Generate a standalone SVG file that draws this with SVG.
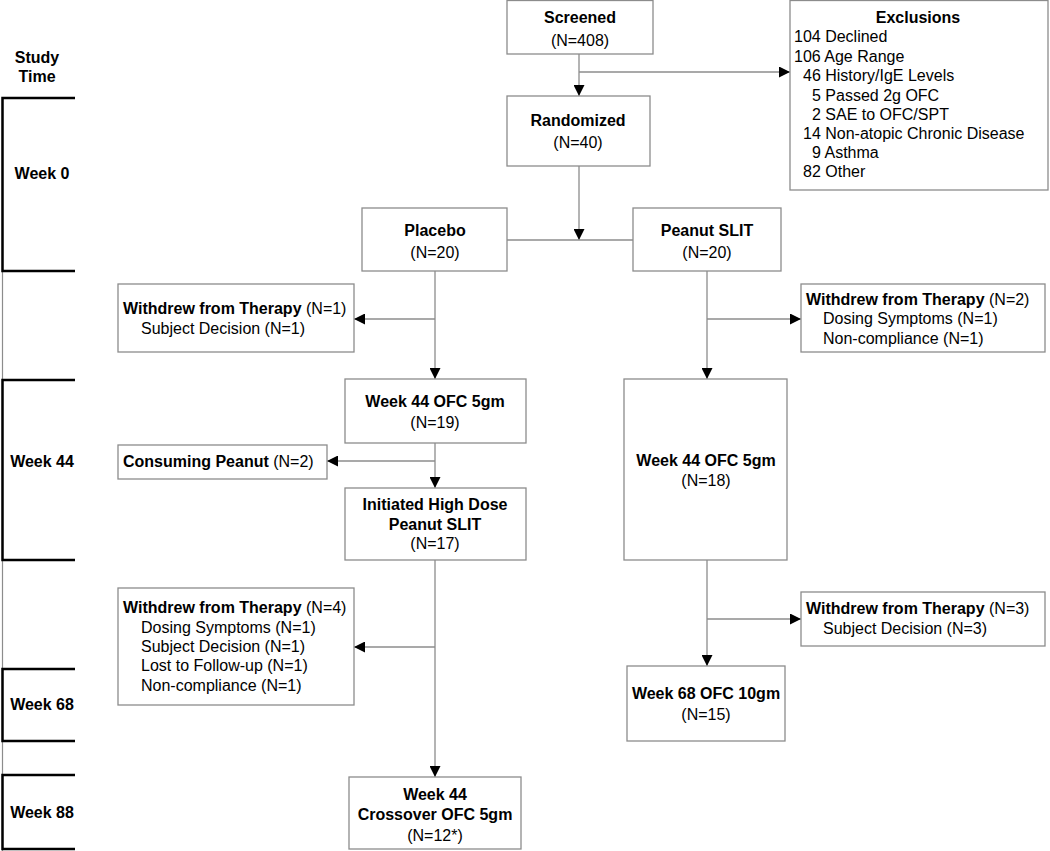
<svg xmlns="http://www.w3.org/2000/svg" width="1050" height="851" viewBox="0 0 1050 851">
<style>
text{font-family:"Liberation Sans",Arial,sans-serif;font-size:16px;fill:#000}
.b{font-weight:bold}
.c{text-anchor:middle}
.box{fill:#fff;stroke:#8c8c8c;stroke-width:1.3}
.ln{fill:none;stroke:#8c8c8c;stroke-width:1.3}
.br{fill:none;stroke:#000;stroke-width:2.5}
</style>
<defs>
<marker id="ah" viewBox="0 0 10 10" refX="10" refY="5" markerWidth="11" markerHeight="11" markerUnits="userSpaceOnUse" orient="auto">
<path d="M0,0 L10,5 L0,10 Z" fill="#000"/>
</marker>
</defs>
<rect width="1050" height="851" fill="#fff"/>

<g id="timeline">
<line x1="2.5" y1="98" x2="2.5" y2="851" stroke="#8c8c8c" stroke-width="1.2"/>
<text class="b c" x="37" y="63">Study</text>
<text class="b c" x="37" y="82">Time</text>
<path class="br" d="M75,98 H2.5 V271 H75"/>
<text class="b c" x="42" y="179">Week 0</text>
<path class="br" d="M75,380 H2.5 V560 H75"/>
<text class="b c" x="42" y="467">Week 44</text>
<path class="br" d="M75,669 H2.5 V741 H75"/>
<text class="b c" x="42" y="710">Week 68</text>
<path class="br" d="M75,775 H2.5 V849 H75"/>
<text class="b c" x="42" y="818">Week 88</text>
</g>

<g id="connectors">
<line class="ln" x1="579" y1="54" x2="579" y2="96" marker-end="url(#ah)"/>
<line class="ln" x1="579" y1="72" x2="790" y2="72" marker-end="url(#ah)"/>
<line class="ln" x1="579" y1="166" x2="579" y2="240" marker-end="url(#ah)"/>
<line class="ln" x1="507" y1="240" x2="633" y2="240"/>
<line class="ln" x1="435" y1="271" x2="435" y2="379" marker-end="url(#ah)"/>
<line class="ln" x1="435" y1="319" x2="354" y2="319" marker-end="url(#ah)"/>
<line class="ln" x1="435" y1="443" x2="435" y2="488" marker-end="url(#ah)"/>
<line class="ln" x1="435" y1="461" x2="327" y2="461" marker-end="url(#ah)"/>
<line class="ln" x1="435" y1="560" x2="435" y2="777" marker-end="url(#ah)"/>
<line class="ln" x1="435" y1="647" x2="354" y2="647" marker-end="url(#ah)"/>
<line class="ln" x1="707" y1="271" x2="707" y2="379" marker-end="url(#ah)"/>
<line class="ln" x1="707" y1="319" x2="801" y2="319" marker-end="url(#ah)"/>
<line class="ln" x1="707" y1="560" x2="707" y2="666" marker-end="url(#ah)"/>
<line class="ln" x1="707" y1="619" x2="801" y2="619" marker-end="url(#ah)"/>
</g>

<g id="screened">
<rect class="box" x="507" y="0.5" width="146" height="53.5"/>
<text class="b c" x="580" y="23">Screened</text>
<text class="c" x="580" y="46">(N=408)</text>
</g>

<g id="exclusions">
<rect class="box" x="790" y="0.5" width="258" height="189.5"/>
<text class="b c" x="918" y="23">Exclusions</text>
<text x="794" y="42">104 Declined</text>
<text x="794" y="62">106 Age Range</text>
<text x="803" y="81">46 History/IgE Levels</text>
<text x="812" y="101">5 Passed 2g OFC</text>
<text x="812" y="120">2 SAE to OFC/SPT</text>
<text x="803" y="139">14 Non-atopic Chronic Disease</text>
<text x="812" y="158">9 Asthma</text>
<text x="803" y="177">82 Other</text>
</g>

<g id="randomized">
<rect class="box" x="507" y="96" width="143" height="70"/>
<text class="b c" x="578" y="126">Randomized</text>
<text class="c" x="578" y="148">(N=40)</text>
</g>

<g id="placebo">
<rect class="box" x="362" y="208" width="145" height="63"/>
<text class="b c" x="435" y="236">Placebo</text>
<text class="c" x="435" y="258">(N=20)</text>
</g>

<g id="peanut">
<rect class="box" x="633" y="208" width="148" height="63"/>
<text class="b c" x="707" y="236">Peanut SLIT</text>
<text class="c" x="707" y="258">(N=20)</text>
</g>

<g id="withdrew1">
<rect class="box" x="118" y="284" width="236" height="68"/>
<text x="123" y="314"><tspan class="b">Withdrew from Therapy</tspan> (N=1)</text>
<text x="141" y="334">Subject Decision (N=1)</text>
</g>

<g id="withdrew2">
<rect class="box" x="801" y="284" width="244" height="68"/>
<text x="806" y="305"><tspan class="b">Withdrew from Therapy</tspan> (N=2)</text>
<text x="823" y="324">Dosing Symptoms (N=1)</text>
<text x="823" y="344">Non-compliance (N=1)</text>
</g>

<g id="week44placebo">
<rect class="box" x="345" y="379" width="181" height="64"/>
<text class="b c" x="435" y="407">Week 44 OFC 5gm</text>
<text class="c" x="435" y="428">(N=19)</text>
</g>

<g id="consuming">
<rect class="box" x="118" y="445" width="209" height="34"/>
<text x="123" y="467"><tspan class="b">Consuming Peanut</tspan> (N=2)</text>
</g>

<g id="highdose">
<rect class="box" x="345" y="488" width="181" height="72"/>
<text class="b c" x="435" y="510">Initiated High Dose</text>
<text class="b c" x="435" y="530">Peanut SLIT</text>
<text class="c" x="435" y="549">(N=17)</text>
</g>

<g id="week44peanut">
<rect class="box" x="624" y="379" width="163" height="181"/>
<text class="b c" x="706" y="466">Week 44 OFC 5gm</text>
<text class="c" x="706" y="486">(N=18)</text>
</g>

<g id="withdrew3">
<rect class="box" x="801" y="592" width="244" height="54"/>
<text x="806" y="614"><tspan class="b">Withdrew from Therapy</tspan> (N=3)</text>
<text x="823" y="634">Subject Decision (N=3)</text>
</g>

<g id="withdrew4">
<rect class="box" x="118" y="588" width="236" height="117"/>
<text x="123" y="613"><tspan class="b">Withdrew from Therapy</tspan> (N=4)</text>
<text x="141" y="633">Dosing Symptoms (N=1)</text>
<text x="141" y="652">Subject Decision (N=1)</text>
<text x="141" y="671">Lost to Follow-up (N=1)</text>
<text x="141" y="691">Non-compliance (N=1)</text>
</g>

<g id="week68">
<rect class="box" x="627" y="666" width="158" height="75"/>
<text class="b c" x="706" y="699">Week 68 OFC 10gm</text>
<text class="c" x="706" y="720">(N=15)</text>
</g>

<g id="crossover">
<rect class="box" x="349" y="777" width="172" height="72"/>
<text class="b c" x="435" y="800">Week 44</text>
<text class="b c" x="435" y="820">Crossover OFC 5gm</text>
<text class="c" x="435" y="841">(N=12*)</text>
</g>
</svg>
